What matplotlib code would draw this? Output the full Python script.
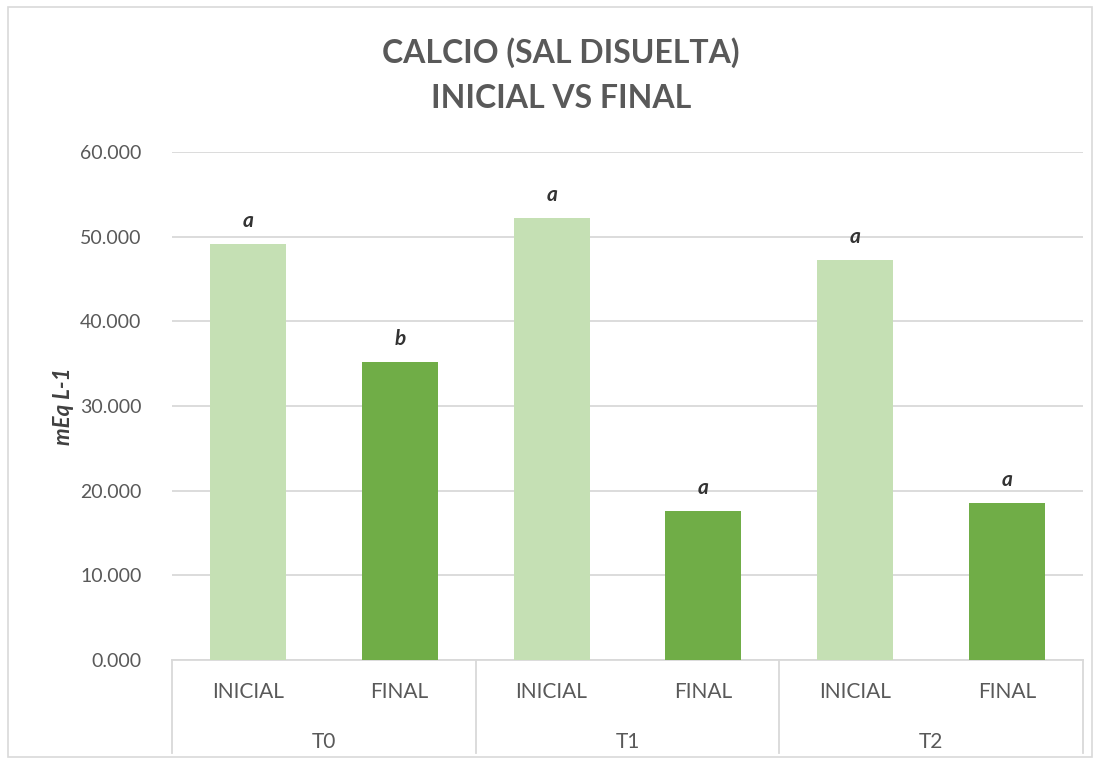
import matplotlib
matplotlib.use('Agg')
import matplotlib.pyplot as plt
from matplotlib.patches import Rectangle
import matplotlib.transforms as mtransforms

groups = ['T0', 'T1', 'T2']
stages = ['INICIAL', 'FINAL']
values = [49.1, 35.2, 52.2, 17.6, 47.3, 18.5]
letters = ['a', 'b', 'a', 'a', 'a', 'a']
colors = ['#c5e0b4', '#70ad47']

plt.rcParams['font.family'] = ['Lato', 'DejaVu Sans']
grey = '#595959'
linec = '#d9d9d9'

fig = plt.figure(figsize=(10.99, 7.63), dpi=100)
# chart border
fig.patches.append(Rectangle((8 / 1099, 1 - 757 / 763), 1084 / 1099, 750 / 763,
                             transform=fig.transFigure, fill=False,
                             edgecolor=linec, linewidth=1.2))

ax = fig.add_axes([172 / 1099, 1 - 660 / 763, 911 / 1099, 508 / 763])
x = [i + 0.5 for i in range(len(values))]
bar_cols = [colors[i % 2] for i in range(len(values))]
ax.bar(x, values, width=0.5, color=bar_cols, zorder=3)

for xi, v, l in zip(x, values, letters):
    ax.annotate(l, (xi, v), xytext=(0, 13), textcoords='offset pixels',
                ha='center', va='bottom', fontsize=15, fontweight='bold',
                fontstyle='italic', color='#333333')

ax.set_xlim(0, 6)
ax.set_ylim(0, 60)
ax.set_yticks(range(0, 61, 10))
ax.set_yticklabels(['%.3f' % t for t in range(0, 61, 10)])
ax.tick_params(axis='y', length=0, labelsize=14, labelcolor=grey, pad=22)
ax.tick_params(axis='x', length=0, labelbottom=False)
ax.grid(axis='y', color=linec, linewidth=1.3, zorder=0)
for s in ax.spines.values():
    s.set_visible(False)

# category axis
trans = mtransforms.blended_transform_factory(ax.transData, ax.transAxes)
ax.plot([0, 6], [0, 0], transform=trans, color=linec, lw=1.3, clip_on=False)
for sx in [0, 2, 4, 6]:
    ax.plot([sx, sx], [0, -0.183], transform=trans, color=linec, lw=1.3, clip_on=False)
for i, xi in enumerate(x):
    ax.text(xi, -0.063, stages[i % 2], transform=trans, ha='center', va='center',
            fontsize=15, color=grey)
for g, name in enumerate(groups):
    ax.text(2 * g + 1, -0.161, name, transform=trans, ha='center', va='center',
            fontsize=15, color=grey)

ax.set_ylabel('mEq L-1', fontsize=16, fontweight='bold', fontstyle='italic',
              color='#404040', labelpad=4)

fig.text(561 / 1099, 1 - 53 / 763, 'CALCIO (SAL DISUELTA)', ha='center', va='center',
         fontsize=23, fontweight='bold', color=grey)
fig.text(561 / 1099, 1 - 98 / 763, 'INICIAL VS FINAL', ha='center', va='center',
         fontsize=23, fontweight='bold', color=grey)

fig.savefig('out.png', dpi=100)
